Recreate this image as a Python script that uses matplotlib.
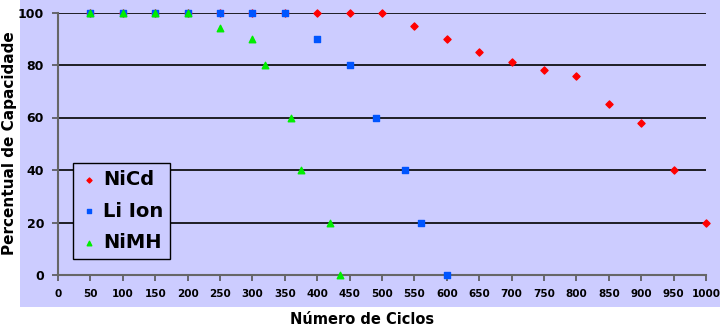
import matplotlib.pyplot as plt
from matplotlib.patches import Rectangle

# ciclos x percentual de capacidade
nicd_x = [50, 100, 150, 200, 250, 300, 350, 400, 450, 500, 550, 600, 650, 700, 750, 800, 850, 900, 950, 1000]
nicd_y = [100, 100, 100, 100, 100, 100, 100, 100, 100, 100, 95, 90, 85, 81, 78, 76, 65, 58, 40, 20]

liion_x = [50, 100, 150, 200, 250, 300, 350, 400, 450, 490, 535, 560, 600]
liion_y = [100, 100, 100, 100, 100, 100, 100, 90, 80, 60, 40, 20, 0]

nimh_x = [50, 100, 150, 200, 250, 300, 320, 360, 375, 420, 435]
nimh_y = [100, 100, 100, 100, 94, 90, 80, 60, 40, 20, 0]

x_ticks = list(range(0, 1001, 50))
y_ticks = [0, 20, 40, 60, 80, 100]

bg = "#ccccff"
fig = plt.figure(figsize=(7.2, 3.32), dpi=100)
fig.patches.append(Rectangle((20 / 720, 25 / 332), 1, 1, transform=fig.transFigure,
                             facecolor=bg, edgecolor="none", zorder=-10))

ax = fig.add_axes([58 / 720, 57 / 332, 648 / 720, 262.5 / 332])
ax.set_facecolor(bg)
ax.patch.set_alpha(0)

ax.scatter(nicd_x, nicd_y, marker="D", s=13, color="#ff0000", label="NiCd", zorder=3, clip_on=False)
ax.scatter(liion_x, liion_y, marker="s", s=18, color="#0055ff", label="Li Ion", zorder=4, clip_on=False)
ax.scatter(nimh_x, nimh_y, marker="^", s=22, color="#00ee00", label="NiMH", zorder=5, clip_on=False)

ax.set_xlim(0, 1000)
ax.set_ylim(0, 100)
ax.set_xticks(x_ticks)
ax.set_yticks(y_ticks)
ax.yaxis.grid(True, color="black", linewidth=1.2)
ax.set_axisbelow(True)

for s in ["top", "right"]:
    ax.spines[s].set_visible(False)
for s in ["left", "bottom"]:
    ax.spines[s].set_color("#666666")
    ax.spines[s].set_linewidth(1.5)
ax.tick_params(axis="both", direction="out", length=4, color="#555555", width=1.2,
               labelsize=7.5, pad=6)
for lab in ax.get_xticklabels() + ax.get_yticklabels():
    lab.set_fontweight("bold")
for lab in ax.get_yticklabels():
    lab.set_fontsize(9)

leg = ax.legend(loc="lower left", bbox_to_anchor=(15 / 648, 16 / 262.5), prop={"weight": "bold", "size": 14},
                frameon=True, fancybox=False, edgecolor="black", facecolor=bg, framealpha=1,
                borderaxespad=0, handletextpad=0.3, borderpad=0.35, labelspacing=0.65,
                handlelength=0.9, markerscale=0.7)
leg.get_frame().set_linewidth(1)

fig.text(10 / 720, 0.5 + (332 - 2 * 143) / 332 / 2, "Percentual de Capacidade", rotation=90,
         ha="center", va="center", fontsize=11, fontweight="bold")
fig.text(362 / 720, 1 - 320 / 332, "Número de Ciclos", ha="center", va="center",
         fontsize=10.5, fontweight="bold")

fig.savefig("out.png", dpi=100)
